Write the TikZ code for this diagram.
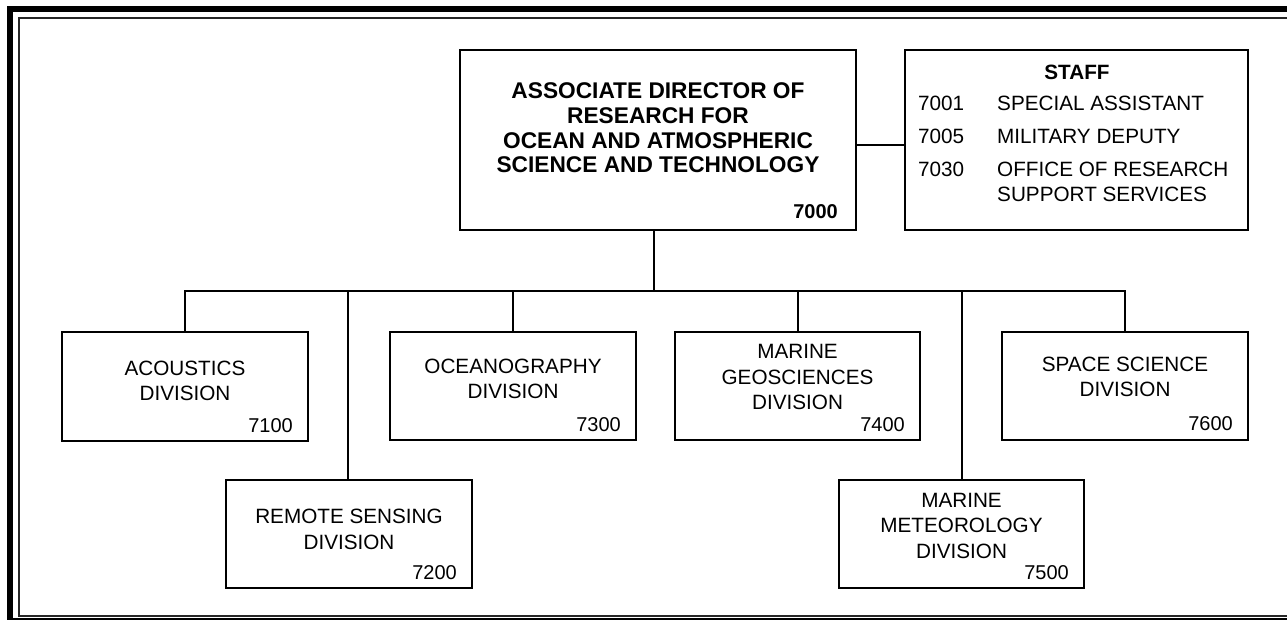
\documentclass[tikz,border=0pt]{standalone}
\usepackage{fontspec}
\setmainfont{Liberation Sans}
\begin{document}
\begin{tikzpicture}[x=1pt,y=-1pt,
  box/.style={draw,line width=2pt,inner sep=0pt,outer sep=0pt},
  conn/.style={line width=2pt},
  lbl/.style={align=center,inner sep=0pt,font=\fontsize{20.7}{25.5}\selectfont},
  ttl/.style={align=center,inner sep=0pt,font=\fontsize{22.7}{24.6}\selectfont\bfseries},
  num/.style={anchor=base east,inner sep=0pt,font=\fontsize{20}{24}\selectfont},
  bnum/.style={anchor=base east,inner sep=0pt,font=\fontsize{20}{24}\selectfont\bfseries},
  stf/.style={anchor=base west,inner sep=0pt,font=\fontsize{20.7}{25}\selectfont}]
\useasboundingbox (0,0) rectangle (1287,620);
% frame
\draw[line width=6pt] (10,9) rectangle (1300,621);
\draw[line width=2pt,black!85] (19,18) rectangle (1300,615.5);
% boxes
\node[box,minimum width=396pt,minimum height=180pt] (dir) at (658,140) {};
\node[box,minimum width=343pt,minimum height=180pt] (staff) at (1076.5,140) {};
\node[box,minimum width=246pt,minimum height=109pt] (acou) at (185,386.5) {};
\node[box,minimum width=246pt,minimum height=108pt] (remote) at (349,534) {};
\node[box,minimum width=246pt,minimum height=108pt] (ocean) at (513,386) {};
\node[box,minimum width=245pt,minimum height=108pt] (geo) at (797.5,386) {};
\node[box,minimum width=245pt,minimum height=108pt] (meteo) at (961.5,534) {};
\node[box,minimum width=246pt,minimum height=108pt] (space) at (1125,385.5) {};
% director text
\node[ttl] (dirT) at (658,128) {ASSOCIATE DIRECTOR OF\\RESEARCH FOR\\OCEAN AND ATMOSPHERIC\\SCIENCE AND TECHNOLOGY};
\node[bnum] (dirN) at ([xshift=-18pt,yshift=11pt]dir.south east) {7000};
% staff text
\node[anchor=base,inner sep=0pt,font=\fontsize{20.7}{25}\selectfont\bfseries] (stT) at (1077,79.3) {STAFF};
\node[stf] (s1c) at (918,110.7) {7001};
\node[stf] (s1d) at (997,110.7) {SPECIAL ASSISTANT};
\node[stf] (s2c) at (918,143.3) {7005};
\node[stf] (s2d) at (997,143.3) {MILITARY DEPUTY};
\node[stf] (s3c) at (918,176.7) {7030};
\node[stf] (s3d) at (997,176.7) {OFFICE OF RESEARCH};
\node[stf] (s4d) at (997,201.7) {SUPPORT SERVICES};
% division labels
\node[lbl] (acouT) at (185,381) {ACOUSTICS\\DIVISION};
\node[lbl] (remoteT) at (349,529.5) {REMOTE SENSING\\DIVISION};
\node[lbl] (oceanT) at (513,379) {OCEANOGRAPHY\\DIVISION};
\node[lbl] (geoT) at (797.5,377) {MARINE\\GEOSCIENCES\\DIVISION};
\node[lbl] (meteoT) at (961.5,525.5) {MARINE\\METEOROLOGY\\DIVISION};
\node[lbl] (spaceT) at (1125,377) {SPACE SCIENCE\\DIVISION};
\node[num] (acouN) at ([xshift=-15pt,yshift=9pt]acou.south east) {7100};
\node[num] (remoteN) at ([xshift=-15pt,yshift=9pt]remote.south east) {7200};
\node[num] (oceanN) at ([xshift=-15pt,yshift=9pt]ocean.south east) {7300};
\node[num] (geoN) at ([xshift=-15pt,yshift=9pt]geo.south east) {7400};
\node[num] (meteoN) at ([xshift=-15pt,yshift=9pt]meteo.south east) {7500};
\node[num] (spaceN) at ([xshift=-15pt,yshift=9pt]space.south east) {7600};
% connectors
\coordinate (bus) at (654,291);
\draw[conn] ([yshift=-5pt]dir.east) -- ([yshift=-5pt]staff.west);
\draw[conn] ([xshift=-4pt]dir.south) -- (bus);
\draw[conn] (acou.north) |- (bus) -| (space.north);
\draw[conn] ([xshift=-1pt]remote.north) -- ([xshift=-1pt]remote.north |- bus);
\draw[conn] (ocean.north) -- (ocean.north |- bus);
\draw[conn] (geo.north) -- (geo.north |- bus);
\draw[conn] (meteo.north) -- (meteo.north |- bus);
\end{tikzpicture}
\end{document}
